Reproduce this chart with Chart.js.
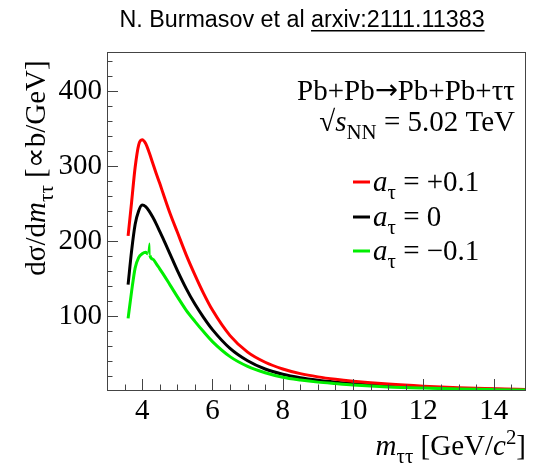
<!DOCTYPE html>
<html>
<head>
<meta charset="utf-8">
<script src="https://cdn.jsdelivr.net/npm/chart.js@4.4.1/dist/chart.umd.min.js"></script>
<style>
html,body{margin:0;padding:0;background:#fff;}
#wrap{width:543px;height:466px;position:relative;}
</style>
</head>
<body>
<div id="wrap"><canvas id="c" width="543" height="466"></canvas></div>
<script>
// ---- data ----
const massX      = [3.6,3.7,3.8,3.9,4.0,4.1,4.2,4.3,4.4,4.5,4.6,4.8,5.0,5.25,5.5,5.75,6.0,6.5,7.0,7.5,8.0,8.5,9.0,9.5,10,11,12,13,14,15];
const redVals    = [207,252,298,328,335,330,318,304,290,277,263,236,212,182,155,130,108,74,52,38.5,29.5,23.3,19,15.8,13.3,9.4,6.6,4.6,3.2,2.2];
const blackVals  = [142,187,222,240,248,246,240,232,223,213,203,182,161,137,116,98,82,57,40.5,29.5,22.5,17.8,14.5,12,10,7,5,3.5,2.4,1.7];
const greenX     = [3.6,3.7,3.8,3.9,4.0,4.1,4.16,4.21,4.22,4.3,4.4,4.5,4.6,4.8,5.0,5.25,5.5,5.75,6.0,6.5,7.0,7.5,8.0,8.5,9.0,9.5,10,11,12,13,14,15];
const greenVals  = [97,133,164,178,183,185,183,197,181,176,170,163,156,141,126,108,93,79,66,46,33,24.5,18.5,14.8,12,10,8.2,5.6,4,2.8,2,1.4];
const seriesLabels = ['+0.1','0','\u22120.1'];
const seriesColors = ['#ff0000','#000000','#00ee00'];
const xTickVals  = [4,6,8,10,12,14];
const yTickVals  = [100,200,300,400];
const X_MIN=3, X_MAX=14.92, Y_MIN=1.5, Y_MAX=452;

const SERIF = '"Liberation Serif","Times New Roman",serif';
const SANS  = '"Liberation Sans",Arial,sans-serif';
const FS = 29;

function pts(xa, ya){ return xa.map((x,i)=>({x:x,y:ya[i]})); }

function segFont(s, size){
  const sz = (s.sub||s.sup) ? size*0.72 : size*(s.scale||1);
  return (s.it?'italic ':'') + sz + 'px ' + (s.font||SERIF);
}
function richWidth(ctx, segs, size){
  let w=0; segs.forEach(s=>{ctx.font=segFont(s,size); w+=ctx.measureText(s.t).width;}); return w;
}
function drawRich(ctx, segs, x, y, size, align){
  const w = richWidth(ctx, segs, size);
  let cx = align==='right' ? x-w : (align==='center' ? x-w/2 : x);
  ctx.textAlign='left'; ctx.textBaseline='alphabetic';
  segs.forEach(s=>{
    ctx.font=segFont(s,size);
    let dy = s.sub ? size*0.28 : (s.sup ? -size*0.38 : (s.dy||0));
    ctx.fillText(s.t, cx, y+dy);
    cx += ctx.measureText(s.t).width;
  });
  return w;
}

const decor = {
  id:'decor',
  afterDatasetsDraw(chart){
    const ctx=chart.ctx, a=chart.chartArea, xs=chart.scales.x, ys=chart.scales.y;
    ctx.save();
    ctx.strokeStyle='#444'; ctx.lineWidth=1;
    ctx.strokeRect(a.left+0.5, a.top+0.5, a.right-a.left-1, a.bottom-a.top);
    ctx.beginPath();
    for(let v=3; v<=X_MAX+1e-9; v+=0.5){
      const px=Math.round(xs.getPixelForValue(v))+0.5;
      const major = Math.abs(v/2-Math.round(v/2))<1e-9;
      ctx.moveTo(px, a.bottom); ctx.lineTo(px, a.bottom-(major?11:5.5));
    }
    for(let v=20; v<=Y_MAX; v+=20){
      const py=Math.round(ys.getPixelForValue(v))+0.5;
      const major = v%100===0;
      ctx.moveTo(a.left, py); ctx.lineTo(a.left+(major?11:5.5), py);
    }
    ctx.stroke();
    ctx.fillStyle='#000';
    ctx.font='23.3px '+SANS;
    const t1='N. Burmasov et al ', t2='arxiv:2111.11383';
    const w1=ctx.measureText(t1).width, w2=ctx.measureText(t2).width;
    let sx = 302-(w1+w2)/2;
    ctx.textAlign='left'; ctx.textBaseline='alphabetic';
    ctx.fillText(t1, sx, 27); ctx.fillText(t2, sx+w1, 27);
    ctx.fillRect(sx+w1, 30, w2, 1.5);
    drawRich(ctx,[{t:'Pb+Pb'},{t:'\u2192',font:'"DejaVu Sans",sans-serif',scale:0.95,dy:-1},{t:'Pb+Pb+\u03c4\u03c4'}], 515, 100, FS, 'right');
    drawRich(ctx,[{t:'\u221a'},{t:'s',it:true},{t:'NN',sub:true},{t:' = 5.02 TeV'}], 515, 131, FS, 'right');
    const rows=[182,217,251];
    seriesLabels.forEach((lab,i)=>{
      ctx.strokeStyle=seriesColors[i]; ctx.lineWidth=3;
      ctx.beginPath(); ctx.moveTo(353, rows[i]); ctx.lineTo(370, rows[i]); ctx.stroke();
      ctx.fillStyle='#000';
      drawRich(ctx,[{t:'a',it:true},{t:'\u03c4',sub:true},{t:' = '+lab}], 373, rows[i]+9, FS, 'left');
    });
    drawRich(ctx,[{t:'m',it:true},{t:'\u03c4\u03c4',sub:true},{t:' [GeV/'},{t:'c',it:true},{t:'2',sup:true},{t:']'}], 526, 455, FS, 'right');
    ctx.save();
    ctx.translate(45, 168); ctx.rotate(-Math.PI/2);
    drawRich(ctx,[{t:'d\u03c3/d'},{t:'m',it:true},{t:'\u03c4\u03c4',sub:true},{t:' [\u221db/GeV]'}], 0, 0, FS, 'center');
    ctx.restore();
    ctx.restore();
  }
};

new Chart(document.getElementById('c'), {
  type:'line',
  data:{ datasets:[
    {label:seriesLabels[0], data:pts(massX, redVals),   borderColor:seriesColors[0], order:1},
    {label:seriesLabels[1], data:pts(massX, blackVals), borderColor:seriesColors[1], order:2},
    {label:seriesLabels[2], data:pts(greenX, greenVals),borderColor:seriesColors[2], order:0,
     segment:{borderWidth: c => (c.p0DataIndex===6 || c.p0DataIndex===7) ? 1.5 : 3}}
  ]},
  options:{
    responsive:false, animation:false, devicePixelRatio:1,
    layout:{padding:{top:52,right:17,left:0,bottom:0}},
    elements:{line:{borderWidth:3,cubicInterpolationMode:'monotone',fill:false},point:{radius:0}},
    plugins:{legend:{display:false},tooltip:{enabled:false},title:{display:false}},
    scales:{
      x:{type:'linear',min:X_MIN,max:X_MAX,
         grid:{display:false,drawTicks:false}, border:{display:false},
         afterBuildTicks(s){ s.ticks = xTickVals.map(v=>({value:v})); },
         afterFit(s){ s.height = 466-390; },
         ticks:{color:'#000',font:{family:SERIF,size:FS},padding:4,maxRotation:0,autoSkip:false}},
      y:{type:'linear',min:Y_MIN,max:Y_MAX,
         grid:{display:false,drawTicks:false}, border:{display:false},
         afterBuildTicks(s){ s.ticks = yTickVals.map(v=>({value:v})); },
         afterFit(s){ s.width = 107; },
         ticks:{color:'#000',font:{family:SERIF,size:FS},padding:5}}
    }
  },
  plugins:[decor]
});
</script>
</body>
</html>
